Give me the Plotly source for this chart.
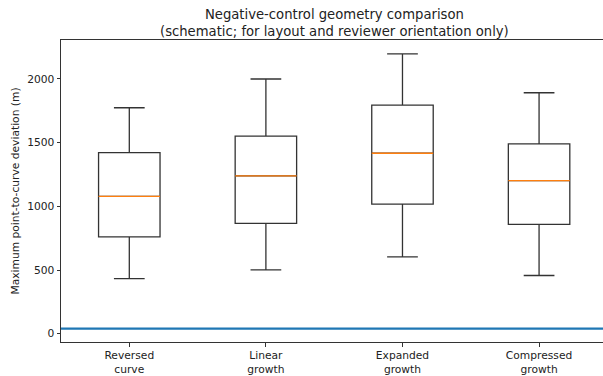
import plotly.graph_objects as go

categories = ["Reversed<br>curve", "Linear<br>growth", "Expanded<br>growth", "Compressed<br>growth"]
positions = [1, 2, 3, 4]
whisker_low = [433, 501, 603, 457]
q1 = [761, 866, 1018, 858]
median = [1079, 1239, 1417, 1202]
q3 = [1422, 1551, 1795, 1491]
whisker_high = [1774, 2000, 2197, 1892]
reference_level = 40

box_w = 0.45

fig = go.Figure()
fig.add_trace(go.Box(
    x=positions, q1=q1, median=median, q3=q3,
    lowerfence=whisker_low, upperfence=whisker_high,
    width=box_w, whiskerwidth=0.5,
    fillcolor="rgba(0,0,0,0)",
    line=dict(color="#333333", width=1.3),
    boxpoints=False, hoverinfo="skip", showlegend=False,
))
for p, m in zip(positions, median):
    fig.add_trace(go.Scatter(
        x=[p - box_w / 2, p + box_w / 2], y=[m, m], mode="lines",
        line=dict(color="#ff7f0e", width=1.3), showlegend=False, hoverinfo="skip",
    ))
fig.add_trace(go.Scatter(
    x=[0.5, 4.5], y=[reference_level, reference_level], mode="lines",
    line=dict(color="#1f77b4", width=2.2), showlegend=False, hoverinfo="skip",
))

font = "DejaVu Sans"
fs = 10.7
fig.add_annotation(
    text="Negative-control geometry comparison<br>(schematic; for layout and reviewer orientation only)",
    x=(334 - 61) / (603 - 61), xref="paper", y=1, yref="paper",
    xanchor="center", yanchor="bottom", yshift=-1, showarrow=False,
    font=dict(family=font, size=13.2, color="#222222"),
)
fig.update_layout(
    width=603, height=376,
    margin=dict(l=61, r=0, t=40, b=34),
    paper_bgcolor="white", plot_bgcolor="white",
    font=dict(family=font, color="#222222", size=fs),
    xaxis=dict(
        range=[0.5, 4.468], tickmode="array", tickvals=positions, ticktext=categories,
        showgrid=False, zeroline=False, showline=True, mirror=True,
        linecolor="#333333", linewidth=1, ticks="outside", ticklen=3.5,
        tickcolor="#333333", tickfont=dict(size=fs),
    ),
    yaxis=dict(
        range=[-65, 2306], tickmode="array", tickvals=[0, 500, 1000, 1500, 2000],
        showgrid=False, zeroline=False, showline=True, mirror=False,
        linecolor="#333333", linewidth=1, ticks="outside", ticklen=3.5,
        tickcolor="#333333", tickfont=dict(size=fs),
        title=dict(text="Maximum point-to-curve deviation (m)", font=dict(size=fs), standoff=5),
    ),
)

fig.write_html("out.html")
